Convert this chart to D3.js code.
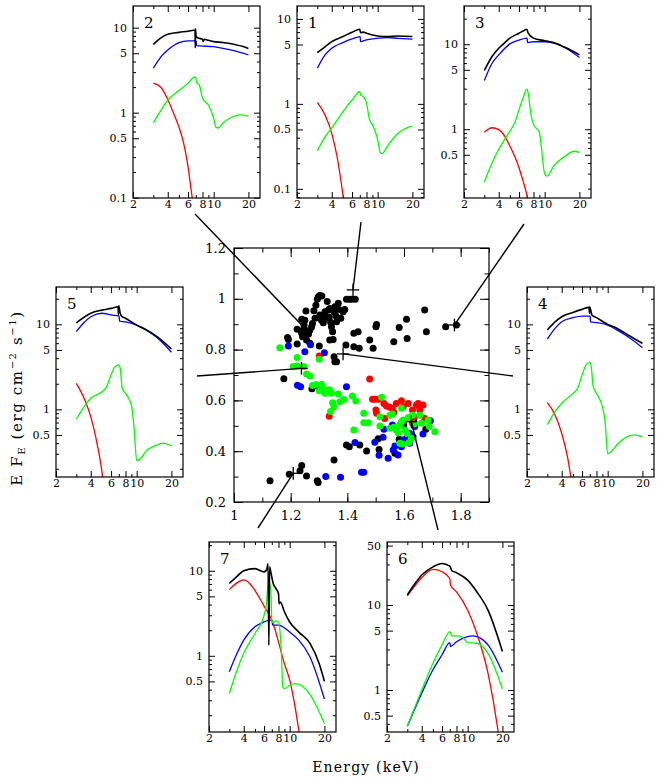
<!DOCTYPE html>
<html>
<head>
<meta charset="utf-8">
<script src="https://cdn.jsdelivr.net/npm/d3@7"></script>
<style>
  body { margin: 0; background: #fff; }
</style>
</head>
<body>
<script>
// ---- central panel data (x = colour ratio, y = flux) ----
const blackPts = [
  [1.192,0.840],[1.189,0.848],[1.223,0.822],[1.223,0.880],[1.239,0.919],[1.247,0.897],[1.250,0.916],
  [1.254,0.952],[1.244,0.877],[1.239,0.864],[1.242,0.851],[1.250,0.851],[1.256,0.838],[1.263,0.861],
  [1.268,0.877],[1.274,0.890],[1.277,0.903],[1.282,0.953],[1.286,0.923],[1.289,0.975],[1.294,0.998],
  [1.298,1.008],[1.303,1.013],[1.310,1.011],[1.303,0.936],[1.309,0.916],[1.315,0.906],[1.317,0.936],
  [1.321,0.949],[1.324,0.923],[1.329,0.989],[1.333,0.956],[1.336,0.927],[1.338,0.962],[1.341,0.908],
  [1.344,0.890],[1.348,0.870],[1.350,0.840],[1.353,0.948],[1.356,0.969],[1.360,0.932],[1.362,0.910],
  [1.368,0.982],[1.371,0.958],[1.377,0.923],[1.385,0.949],[1.391,0.958],[1.397,0.998],[1.407,0.998],
  [1.416,0.998],[1.428,0.998],[1.268,0.825],[1.301,0.814],[1.338,0.838],[1.353,0.772],[1.356,0.752],
  [1.362,0.752],[1.395,0.818],[1.423,0.864],[1.438,0.870],[1.423,0.811],[1.442,0.805],[1.479,0.838],
  [1.491,0.805],[1.501,0.890],[1.503,0.899],[1.564,0.831],[1.583,0.887],[1.609,0.919],[1.611,0.844],
  [1.673,0.956],[1.679,0.870],[1.747,0.890],[1.785,0.897],[1.176,0.685],[1.275,0.646],
  [1.127,0.284],[1.195,0.309],[1.233,0.323],[1.239,0.344],[1.256,0.302],[1.294,0.284],[1.297,0.277],
  [1.353,0.365],[1.397,0.424],[1.407,0.418],[1.444,0.424],[1.468,0.401],[1.509,0.449],[1.512,0.407],
  [1.568,0.392],[1.586,0.503],[1.583,0.447],[1.599,0.503],[1.635,0.529],[1.677,0.486]
];
const bluePts = [
  [1.192,0.814],[1.270,0.819],[1.250,0.792],[1.294,0.657],[1.224,0.660],[1.235,0.654],[1.319,0.788],
  [1.397,0.654],[1.427,0.434],[1.497,0.435],[1.512,0.384],[1.526,0.455],[1.529,0.486],[1.544,0.372],
  [1.559,0.503],[1.562,0.405],[1.568,0.420],[1.579,0.385],[1.591,0.418],[1.597,0.444],[1.609,0.451],
  [1.620,0.470],[1.620,0.431],[1.632,0.457],[1.638,0.497],[1.667,0.468],[1.693,0.520],[1.324,0.300],
  [1.376,0.297],[1.450,0.317],[1.458,0.317]
];
const redPts = [
  [1.301,0.775],[1.479,0.684],[1.489,0.605],[1.497,0.605],[1.509,0.605],[1.501,0.562],[1.503,0.549],
  [1.529,0.588],[1.538,0.578],[1.550,0.573],[1.559,0.569],[1.564,0.552],[1.532,0.529],[1.591,0.599],
  [1.597,0.575],[1.615,0.588],[1.630,0.562],[1.635,0.536],[1.644,0.582],[1.650,0.588],[1.653,0.578],
  [1.656,0.562],[1.667,0.582],[1.673,0.529],[1.336,0.538],[1.630,0.510],[1.573,0.588]
];
const greenPts = [
  [1.162,0.807],[1.223,0.769],[1.209,0.733],[1.223,0.735],[1.247,0.733],[1.256,0.704],[1.268,0.696],
  [1.277,0.659],[1.289,0.663],[1.301,0.638],[1.309,0.664],[1.315,0.647],[1.321,0.628],[1.329,0.641],
  [1.333,0.630],[1.338,0.641],[1.344,0.628],[1.348,0.591],[1.353,0.575],[1.341,0.556],[1.368,0.625],
  [1.374,0.595],[1.388,0.604],[1.418,0.617],[1.430,0.598],[1.458,0.549],[1.458,0.512],[1.474,0.512],
  [1.423,0.483],[1.515,0.536],[1.521,0.612],[1.550,0.542],[1.559,0.546],[1.515,0.499],[1.564,0.494],
  [1.550,0.490],[1.573,0.483],[1.579,0.473],[1.585,0.503],[1.591,0.516],[1.597,0.523],[1.603,0.483],
  [1.611,0.470],[1.618,0.434],[1.626,0.451],[1.635,0.507],[1.630,0.542],[1.656,0.542],[1.662,0.510],
  [1.685,0.523],[1.689,0.497],[1.709,0.477],[1.585,0.431],[1.595,0.428],[1.301,0.762],[1.591,0.569],
  [1.615,0.533]
];

// the seven selected observations (panel number, x, y)
const markIds = ["1", "2", "3", "4", "5", "6", "7"];
const markX = [1.420, 1.256, 1.778, 1.385, 1.238, 1.626, 1.209];
const markY = [1.035, 0.877, 0.897, 0.783, 0.726, 0.516, 0.313];

const mainXTicks = [1, 1.2, 1.4, 1.6, 1.8];
const mainYTicks = [0.2, 0.4, 0.6, 0.8, 1, 1.2];

// ---- spectra: [energy keV, E F_E] ; total = black, comp = blue, disk = red, line = green ----
const total2 = [[3,6.37],[3.5,7.6],[4,8.35],[5,8.8],[6,9.1],[6.9,9.4],[6.93,5.8],[6.96,9.7],[7.05,7.8],[7.5,7.5],[8,7.3],[8.1,6.9],[8.3,7.3],[9,7.1],[10,6.85],[12,6.7],[15,6.37],[18,6.0],[20,5.7]];
const comp2 = [[3,3.33],[3.5,4.56],[4,5.45],[5,6.66],[6,7.0],[7.05,7.0],[7.1,6.14],[8,6.08],[10,5.97],[12,5.7],[15,5.36],[20,4.77]];
const disk2 = [[3,2.22],[3.5,1.98],[4,1.43],[4.5,0.98],[5,0.68],[5.5,0.435],[6,0.23],[6.5,0.103],[6.6,0.09]];
const line2 = [[3,0.763],[3.5,1.07],[4,1.41],[5,1.82],[6,2.22],[6.8,2.61],[7.0,2.61],[7.1,2.25],[7.5,2.12],[8,1.48],[9,1.23],[10,0.86],[10.5,0.67],[11,0.66],[12,0.75],[14,0.87],[17,0.94],[20,0.91]];

const total1 = [[3,4.02],[3.5,4.7],[4,5.4],[5,6.2],[6,6.97],[7,7.56],[7.1,6.9],[7.5,7.0],[8,6.78],[10,6.3],[12,6.2],[15,6.3],[20,6.2]];
const comp1 = [[3,2.63],[3.5,3.77],[4,4.52],[5,5.27],[6,5.82],[7.05,6.2],[7.1,5.4],[8,5.66],[10,5.92],[12,6.03],[15,5.92],[20,5.77]];
const disk1 = [[3,1.04],[3.5,0.74],[4,0.45],[4.5,0.22],[5,0.085],[5.1,0.07]];
const line1 = [[3,0.28],[3.5,0.41],[4,0.52],[5,0.81],[6,1.11],[7,1.39],[7.1,1.27],[7.5,1.22],[8,1.02],[8.5,0.65],[9,0.57],[10,0.38],[10.5,0.27],[11,0.26],[12,0.31],[15,0.45],[20,0.55]];

const total3 = [[3,4.91],[3.5,7.17],[4,8.98],[4.5,10.4],[5,11.8],[6,13.5],[6.5,14.3],[7,15.0],[7.2,13.5],[8,11.8],[10,11.0],[12,10.45],[15,9.2],[20,7.5]];
const comp3 = [[3,3.75],[3.5,5.98],[4,7.5],[5,10.1],[6,11.2],[7.05,11.8],[7.1,10.45],[8,10.7],[10,10.7],[12,10.3],[15,9.1],[20,7.0]];
const disk3 = [[3,0.92],[3.5,1.04],[4,0.99],[4.5,0.83],[5,0.63],[5.5,0.48],[6,0.35],[6.5,0.245],[7,0.17],[7.2,0.14]];
const line3 = [[3,0.24],[3.5,0.40],[4,0.58],[4.5,0.76],[5,0.95],[5.5,1.19],[6,1.70],[6.5,2.33],[7,2.96],[7.2,2.66],[7.6,1.49],[8,1.14],[9,0.91],[10,0.30],[10.5,0.28],[12,0.37],[15,0.48],[18,0.55],[20,0.53]];

const total4 = [[3,8.6],[3.5,10.7],[4,12.3],[5,13.8],[6,15.0],[6.9,15.85],[6.95,13.5],[7.0,16.0],[7.3,12.9],[8,12.0],[10,10.0],[12,9.0],[15,7.5],[20,5.98]];
const comp4 = [[3,6.72],[3.5,8.97],[4,10.7],[5,12.0],[6,12.5],[7.05,12.5],[7.1,10.7],[8,10.5],[10,9.8],[12,8.6],[15,7.16],[20,5.32]];
const disk4 = [[3,1.20],[3.5,0.86],[4,0.52],[4.5,0.27],[4.8,0.162],[4.9,0.14]];
const line4 = [[3,0.66],[3.5,0.94],[4,1.18],[5,1.54],[5.5,1.77],[6,2.54],[6.5,3.33],[7,3.57],[7.2,3.18],[7.5,1.85],[8,1.54],[9,1.07],[9.5,0.72],[10,0.30],[11,0.33],[12,0.38],[15,0.48],[17,0.50],[20,0.47]];

const total5 = [[3,10.4],[4,13.5],[5,14.7],[6,15.4],[6.9,16.1],[6.95,13.0],[7.0,16.5],[7.2,13.5],[7.5,12.3],[8,11.8],[10,9.8],[12,8.7],[15,7.16],[20,5.13]];
const comp5 = [[3,8.2],[3.5,10.5],[4,12.3],[5,13.5],[6,12.9],[7.05,12.5],[7.1,10.9],[8,10.7],[10,9.8],[12,8.6],[15,7.0],[20,4.7]];
const disk5 = [[3,2.02],[3.5,1.35],[4,0.82],[4.5,0.42],[5,0.185],[5.1,0.15]];
const line5 = [[3,0.77],[3.5,1.07],[4,1.35],[5,1.61],[5.5,1.85],[6,2.54],[6.5,3.18],[7,3.33],[7.2,3.04],[7.5,1.77],[8,1.54],[9,1.12],[9.5,0.6],[10,0.25],[11,0.27],[12,0.32],[15,0.38],[17,0.40],[20,0.37]];

const total6 = [[3,13.1],[3.5,17.9],[4,22.5],[5,28.1],[6,30.8],[7,28.6],[7.3,25.3],[8,24.0],[10,19.6],[12,14.3],[15,8.7],[20,2.84]];
const comp6 = [[3,0.375],[4,0.92],[5,1.73],[6,2.60],[7,3.62],[7.1,3.25],[8,3.70],[10,4.25],[11,4.33],[12,4.25],[15,3.40],[20,1.62]];
const disk6 = [[3,12.8],[4,20.9],[5,26.2],[6,24.6],[7,20.5],[7.1,17.2],[8,14.3],[10,8.7],[12,4.66],[15,1.58],[18,0.39],[18.5,0.3]];
const line6 = [[3,0.375],[4,1.0],[5,2.07],[6,3.4],[7,4.87],[7.3,4.33],[8,4.33],[9,4.18],[10,3.62],[12,3.55],[15,2.7],[20,1.03]];

const total7 = [[3,7.1],[3.5,8.6],[4,10],[5,10.6],[6,9.7],[6.3,10.2],[6.5,12.2],[6.6,1.33],[6.7,11.1],[6.9,9.3],[7.2,7.1],[7.6,6.2],[8,5.4],[8.1,4.1],[8.3,4.3],[9,3.3],[10,2.5],[12,1.9],[15,1.4],[18,0.81],[20,0.5]];
const comp7 = [[3,0.65],[3.5,1.07],[4,1.53],[5,2.2],[6,2.5],[6.8,2.63],[7.05,2.58],[7.1,2.3],[8,2.3],[10,1.9],[12,1.53],[15,0.97],[20,0.31]];
const disk7 = [[3,6.0],[3.5,7.2],[4,7.8],[4.5,7.1],[5,5.9],[6,3.84],[7,2.63],[7.5,2.0],[8,1.46],[9,0.81],[10,0.52],[11,0.275],[12,0.134],[12.3,0.11]];
const line7 = [[3,0.36],[3.5,0.68],[4,1.07],[5,1.83],[6,3.0],[6.3,4.1],[6.5,6.8],[6.7,7.4],[6.9,4.9],[7.0,2.63],[7.2,2.45],[7.5,2.58],[8,2.5],[8.5,0.97],[8.7,0.43],[9,0.41],[10,0.45],[11,0.47],[12,0.46],[15,0.35],[18,0.22],[20,0.16]];

const insetXTicks = [2, 4, 6, 8, 10, 20];

// ---- layout ----
const W = 664, H = 778;
const serif = "DejaVu Serif";
const panels = [
  { id: "2", left: 133, top: 6,   h: 192, y: [0.099, 18.0], ticks: [0.1, 0.5, 1, 5, 10], series: [total2, comp2, disk2, line2], from: [195, 214] },
  { id: "1", left: 297, top: 6,   h: 192, y: [0.078, 14.2], ticks: [0.1, 0.5, 1, 5, 10], series: [total1, comp1, disk1, line1], from: [361, 222] },
  { id: "3", left: 464, top: 6,   h: 192, y: [0.155, 28.2], ticks: [0.5, 1, 5, 10],      series: [total3, comp3, disk3, line3], from: [524, 224] },
  { id: "5", left: 56,  top: 287, h: 190, y: [0.160, 27.5], ticks: [0.5, 1, 5, 10],      series: [total5, comp5, disk5, line5], from: [197, 376] },
  { id: "4", left: 527, top: 287, h: 190, y: [0.160, 27.5], ticks: [0.5, 1, 5, 10],      series: [total4, comp4, disk4, line4], from: [513, 376] },
  { id: "7", left: 209, top: 542, h: 190, y: [0.127, 21.8], ticks: [0.5, 1, 5, 10],      series: [total7, comp7, disk7, line7], from: [258, 528] },
  { id: "6", left: 387, top: 542, h: 190, y: [0.321, 55.1], ticks: [0.5, 1, 5, 10, 50],  series: [total6, comp6, disk6, line6], from: [438, 530] }
];
const seriesColors = ["#000000", "#0000ff", "#ff0000", "#00ff00"];
const insetW = 127;

const svg = d3.select("body").append("svg")
    .attr("width", W)
    .attr("height", H)
    .style("background", "#fff");

function styleAxis(g, size) {
    g.select(".domain").remove();
    g.selectAll("line").attr("stroke", "#000").attr("stroke-width", 1);
    g.selectAll("text").attr("font-family", serif).attr("font-size", size).attr("fill", "#000");
}

// ---- central panel ----
const xMain = d3.scaleLinear().domain([1, 1.9]).range([234, 489]);
const yMain = d3.scaleLinear().domain([0.2, 1.2]).range([502, 248]);
const minorX = d3.range(10, 20).map(d => d / 10);
const minorY = d3.range(2, 13).map(d => d / 10);

const main = svg.append("g");
main.append("g").attr("transform", "translate(0,502)")
    .call(d3.axisBottom(xMain).tickValues(mainXTicks).tickSize(-9).tickPadding(9).tickFormat(d3.format("")))
    .call(g => styleAxis(g, 13));
main.append("g").attr("transform", "translate(0,502)")
    .call(d3.axisBottom(xMain).tickValues(minorX).tickSize(-4.5).tickFormat(""))
    .call(g => styleAxis(g, 13));
main.append("g").attr("transform", "translate(0,248)")
    .call(d3.axisTop(xMain).tickValues(mainXTicks).tickSize(-9).tickFormat(""))
    .call(g => styleAxis(g, 13));
main.append("g").attr("transform", "translate(0,248)")
    .call(d3.axisTop(xMain).tickValues(minorX).tickSize(-4.5).tickFormat(""))
    .call(g => styleAxis(g, 13));
main.append("g").attr("transform", "translate(234,0)")
    .call(d3.axisLeft(yMain).tickValues(mainYTicks).tickSize(-9).tickPadding(8).tickFormat(d3.format("")))
    .call(g => styleAxis(g, 13));
main.append("g").attr("transform", "translate(234,0)")
    .call(d3.axisLeft(yMain).tickValues(minorY).tickSize(-4.5).tickFormat(""))
    .call(g => styleAxis(g, 13));
main.append("g").attr("transform", "translate(489,0)")
    .call(d3.axisRight(yMain).tickValues(mainYTicks).tickSize(-9).tickFormat(""))
    .call(g => styleAxis(g, 13));
main.append("g").attr("transform", "translate(489,0)")
    .call(d3.axisRight(yMain).tickValues(minorY).tickSize(-4.5).tickFormat(""))
    .call(g => styleAxis(g, 13));
main.append("rect")
    .attr("x", 234).attr("y", 248).attr("width", 255).attr("height", 254)
    .attr("fill", "none").attr("stroke", "#000").attr("stroke-width", 1.2);

const pointSets = [[blackPts, "#000000"], [redPts, "#ff0000"], [bluePts, "#0000ff"], [greenPts, "#00ff00"]];
pointSets.forEach(([pts, col]) => {
    main.append("g").selectAll("circle")
        .data(pts)
        .join("circle")
        .attr("cx", d => xMain(d[0]))
        .attr("cy", d => yMain(d[1]))
        .attr("r", 3.5)
        .attr("fill", col);
});

// crosses on the selected observations
markIds.forEach((id, i) => {
    main.append("line")
        .attr("x1", xMain(markX[i] - 0.022)).attr("x2", xMain(markX[i] + 0.022))
        .attr("y1", yMain(markY[i])).attr("y2", yMain(markY[i]))
        .attr("stroke", "#000").attr("stroke-width", 1.3);
    main.append("line")
        .attr("x1", xMain(markX[i])).attr("x2", xMain(markX[i]))
        .attr("y1", yMain(markY[i] - 0.025)).attr("y2", yMain(markY[i] + 0.025))
        .attr("stroke", "#000").attr("stroke-width", 1.3);
});

// ---- insets ----
const xTickMinor = [3, 5, 7, 9];
const lineGen = d3.line().curve(d3.curveMonotoneX);

panels.forEach((p, k) => {
    const x = d3.scaleLog().domain([2, 25.2]).range([0, insetW]);
    const y = d3.scaleLog().domain(p.y).range([p.h, 0]);
    const g = svg.append("g").attr("transform", `translate(${p.left},${p.top})`);

    // minor y ticks: every k*10^n inside the range
    const yMinor = [];
    for (let e = -2; e <= 2; e++) {
        for (let m = 1; m <= 9; m++) {
            const v = m * Math.pow(10, e);
            if (v >= p.y[0] && v <= p.y[1] && !p.ticks.some(t => Math.abs(t - v) < 1e-9)) yMinor.push(v);
        }
    }

    g.append("g").attr("transform", `translate(0,${p.h})`)
        .call(d3.axisBottom(x).tickValues(insetXTicks).tickSize(-6).tickPadding(2).tickFormat(d3.format("")))
        .call(a => styleAxis(a, 11));
    g.append("g").attr("transform", `translate(0,${p.h})`)
        .call(d3.axisBottom(x).tickValues(xTickMinor).tickSize(-3).tickFormat(""))
        .call(a => styleAxis(a, 11));
    g.append("g")
        .call(d3.axisTop(x).tickValues(insetXTicks).tickSize(-6).tickFormat(""))
        .call(a => styleAxis(a, 11));
    g.append("g")
        .call(d3.axisTop(x).tickValues(xTickMinor).tickSize(-3).tickFormat(""))
        .call(a => styleAxis(a, 11));
    g.append("g")
        .call(d3.axisLeft(y).tickValues(p.ticks).tickSize(-6).tickPadding(6).tickFormat(d3.format("")))
        .call(a => styleAxis(a, 11));
    g.append("g")
        .call(d3.axisLeft(y).tickValues(yMinor).tickSize(-3).tickFormat(""))
        .call(a => styleAxis(a, 11));
    g.append("g").attr("transform", `translate(${insetW},0)`)
        .call(d3.axisRight(y).tickValues(p.ticks).tickSize(-6).tickFormat(""))
        .call(a => styleAxis(a, 11));
    g.append("g").attr("transform", `translate(${insetW},0)`)
        .call(d3.axisRight(y).tickValues(yMinor).tickSize(-3).tickFormat(""))
        .call(a => styleAxis(a, 11));

    g.append("clipPath").attr("id", "clip" + k)
        .append("rect").attr("width", insetW).attr("height", p.h);

    const curves = g.append("g").attr("clip-path", `url(#clip${k})`);
    // draw components first, total spectrum last
    [1, 2, 3, 0].forEach(s => {
        curves.append("path")
            .attr("d", lineGen.x(d => x(d[0])).y(d => y(d[1]))(p.series[s]))
            .attr("fill", "none")
            .attr("stroke", seriesColors[s])
            .attr("stroke-width", s === 0 ? 1.6 : 1.3);
    });

    g.append("rect")
        .attr("width", insetW).attr("height", p.h)
        .attr("fill", "none").attr("stroke", "#000").attr("stroke-width", 1.2);

    g.append("text")
        .attr("x", 11).attr("y", 22)
        .attr("font-family", serif).attr("font-size", 15)
        .text(p.id);

    // connector from the inset to its point in the central panel
    const i = markIds.indexOf(p.id);
    svg.append("line")
        .attr("x1", p.from[0]).attr("y1", p.from[1])
        .attr("x2", xMain(markX[i])).attr("y2", yMain(markY[i]))
        .attr("stroke", "#000").attr("stroke-width", 1.4);
});

// ---- axis titles ----
svg.append("text")
    .attr("x", 366).attr("y", 772)
    .attr("text-anchor", "middle")
    .attr("font-family", serif).attr("font-size", 14)
    .attr("letter-spacing", 1.2)
    .text("Energy (keV)");

const yt = svg.append("text")
    .attr("transform", "translate(22,398) rotate(-90)")
    .attr("text-anchor", "middle")
    .attr("font-family", serif).attr("font-size", 15)
    .attr("letter-spacing", 1.6);
yt.append("tspan").text("E F");
yt.append("tspan").attr("font-size", 10).attr("dy", 3).text("E");
yt.append("tspan").attr("dy", -3).text(" (erg cm");
yt.append("tspan").attr("font-size", 10).attr("dy", -6).text("−2");
yt.append("tspan").attr("dy", 6).text(" s");
yt.append("tspan").attr("font-size", 10).attr("dy", -6).text("−1");
yt.append("tspan").attr("dy", 6).text(")");
</script>
</body>
</html>
